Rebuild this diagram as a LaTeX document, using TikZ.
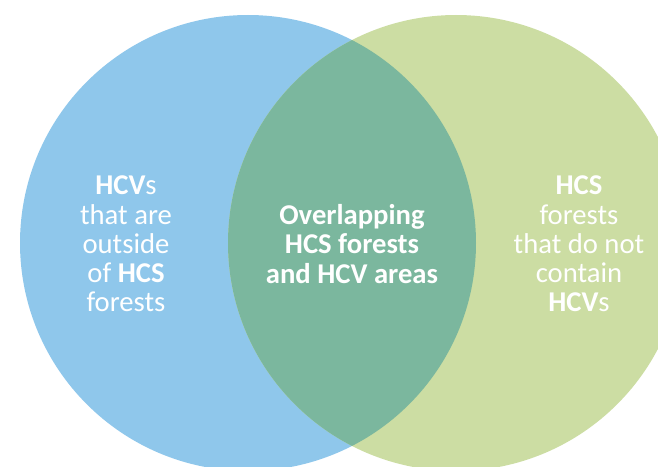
\documentclass[tikz,border=0pt]{standalone}
\usepackage{fontspec}
\setmainfont{Carlito}
\usepackage{tikz}

\definecolor{hcvblue}{HTML}{8FC7EB}
\definecolor{hcsgreen}{HTML}{CCDDA3}
\definecolor{bothgreen}{HTML}{7BB79E}

\begin{document}
\begin{tikzpicture}[x = 0.75pt, y = -0.75pt,
                        settext/.style = {text = white, align = center, inner sep = 0pt,
                                          font = \fontsize{21.5}{21.9}\selectfont}]
      \clip (0, 0) rectangle (658, 467);
      \coordinate (hcv) at (248, 243);
      \coordinate (hcs) at (456, 243);

      \fill [hcvblue] (hcv) circle (228);
      \fill [hcsgreen] (hcs) circle (228);
      \begin{scope}
        \clip (hcv) circle (228);
        \fill [bothgreen] (hcs) circle (228);
      \end{scope}

      \node [settext] (outside) at (126, 244){\textbf{HCV}s\\that are\\outside\\of \textbf{HCS}\\forests};
      \node [settext] (both) at (352, 244){\textbf{Overlapping}\\\textbf{HCS forests}\\\textbf{and HCV areas}};
      \node [settext] (nohcv) at (579, 244){\textbf{HCS}\\forests\\that do not\\contain\\\textbf{HCV}s};
      \end{tikzpicture}
\end{document}
